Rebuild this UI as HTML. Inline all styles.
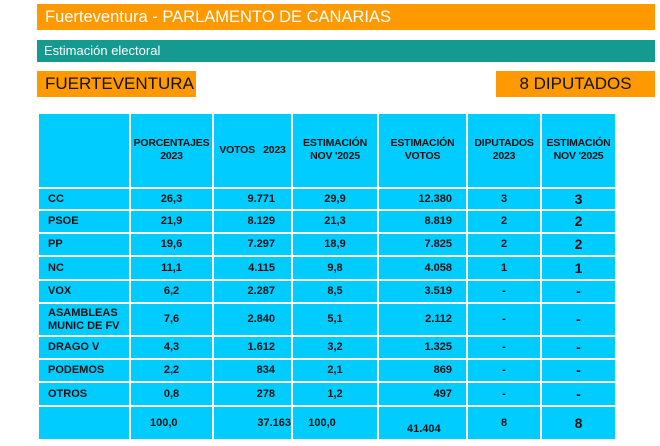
<!DOCTYPE html>
<html><head><meta charset="utf-8">
<style>
body{margin:0;width:660px;height:446px;background:#fff;position:relative;overflow:hidden;font-family:"Liberation Sans",sans-serif}
.bar{position:absolute}
.t{position:absolute;font-family:"Liberation Sans Narrow","Liberation Sans",sans-serif;font-weight:bold;font-size:11px;color:#111;white-space:nowrap;line-height:13px}
.h{font-size:10.5px;letter-spacing:-0.2px}
.cell{position:absolute;background:#00CCFF}
</style></head><body>
<div class="bar" style="left:37px;top:4px;width:618px;height:26px;background:#FF9900;color:#fff;font-size:16.5px;line-height:26px;padding-left:8px;box-sizing:border-box">Fuerteventura - PARLAMENTO DE CANARIAS</div>
<div class="bar" style="left:37px;top:40px;width:618px;height:22px;background:#159A8F;color:#fff;font-size:13px;line-height:22px;padding-left:7px;box-sizing:border-box">Estimación electoral</div>
<div class="bar" style="left:37px;top:71px;width:159px;height:26px;background:#FF9900;color:#111;font-size:17px;line-height:26px;padding-left:8px;box-sizing:border-box">FUERTEVENTURA</div>
<div class="bar" style="left:496px;top:71px;width:159px;height:26px;background:#FF9900;color:#111;font-size:17px;line-height:26px;text-align:center">8 DIPUTADOS</div>
<div id="tbl"></div>
<script>
const parties=["CC","PSOE","PP","NC","VOX","ASAMBLEAS<br>MUNIC DE FV","DRAGO V","PODEMOS","OTROS",""];
const pct2023=["26,3","21,9","19,6","11,1","6,2","7,6","4,3","2,2","0,8","100,0"];
const votes2023=["9.771","8.129","7.297","4.115","2.287","2.840","1.612","834","278","37.163"];
const estPct=["29,9","21,3","18,9","9,8","8,5","5,1","3,2","2,1","1,2","100,0"];
const estVotes=["12.380","8.819","7.825","4.058","3.519","2.112","1.325","869","497","41.404"];
const seats2023=["3","2","2","1","-","-","-","-","-","8"];
const estSeats=["3","2","2","1","-","-","-","-","-","8"];
const cols=[38,130,213,292,378,467,541,616];
const rows=[113,188,210,233,256,280,303,336,359,382,406,440];
const T=document.getElementById('tbl');
function add(cls,style,html){const d=document.createElement('div');d.className=cls;d.style.cssText=style;if(html!==undefined)d.innerHTML=html;T.appendChild(d);return d;}
for(let r=0;r<rows.length-1;r++)for(let c=0;c<cols.length-1;c++){
 const e=add('cell',`left:${cols[c]+1}px;top:${rows[r]+1}px;width:${cols[c+1]-cols[c]-2}px;height:${rows[r+1]-rows[r]-2}px`);
 
 
}
const heads=["","PORCENTAJES<br>2023","VOTOS &nbsp;&nbsp;2023","ESTIMACIÓN<br>NOV '2025","ESTIMACIÓN<br>VOTOS","DIPUTADOS<br>2023","ESTIMACIÓN<br>NOV '2025"];
for(let c=1;c<7;c++){
 const h=add('t h',`left:${cols[c]}px;width:${cols[c+1]-cols[c]}px;top:${c==2?144:137}px;text-align:center`,heads[c]);
 
 
}
for(let r=0;r<parties.length;r++){
 const y0=rows[r+1],y1=rows[r+2],mid=(y0+y1)/2;
 const two=parties[r].includes('<br>');
 const ty=mid-(two?13:6.5);
 const tot=r==parties.length-1;
 const p=add('t',`left:48px;top:${ty}px`,parties[r]);
 let e;
 e=add('t',`left:${tot?150:130}px;width:83px;top:${mid-6.5}px;text-align:${tot?'left':'center'}`,pct2023[r]);
 e=add('t',`right:${660-(tot?291:275)}px;top:${mid-6.5}px;text-align:right`,votes2023[r]);
 e=add('t',`left:292px;width:${tot?60:86}px;top:${mid-6.5}px;text-align:center`,estPct[r]);
 e=add('t',tot?`left:407px;top:${mid}px`:`right:${660-452}px;top:${mid-6.5}px`,estVotes[r]);
 e=add('t',`left:467px;width:74px;top:${mid-6.5}px;text-align:center`,seats2023[r]);
 e=add('t',`left:541px;width:75px;top:${mid-7.5}px;text-align:center;font-size:14px;line-height:15px`,estSeats[r]);
}
</script>
</body></html>
